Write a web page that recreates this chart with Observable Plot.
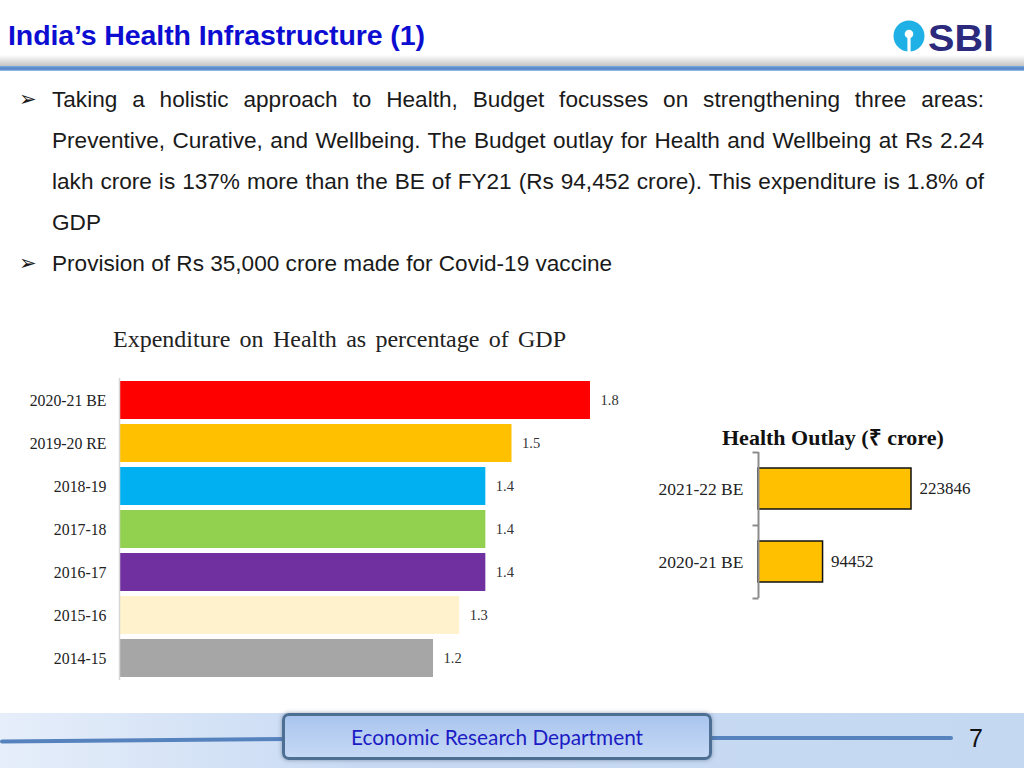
<!DOCTYPE html>
<html><head><meta charset="utf-8">
<script src="https://cdn.jsdelivr.net/npm/d3@7"></script>
<script src="https://cdn.jsdelivr.net/npm/@observablehq/plot@0.6"></script>
<style>
html,body{margin:0;padding:0;background:#fff;}
#slide{position:relative;width:1024px;height:768px;overflow:hidden;background:#fff;font-family:"Liberation Sans",Arial,sans-serif;}
.abs{position:absolute;}
#title{left:8px;top:19px;font-family:"Liberation Sans Narrow","Liberation Sans",Arial,sans-serif;font-weight:bold;font-size:28.5px;color:#0d0dd2;white-space:nowrap;letter-spacing:-0.1px;}
#hshadow{left:0;top:55px;width:1024px;height:11px;background:linear-gradient(to bottom,rgba(255,255,255,0),#c4c4c4);}
#hline{left:0;top:66px;width:1024px;height:5px;background:linear-gradient(to bottom,#7aa6dc,#4f82c6 60%,#a9c5e8);}
.line{left:52px;width:932px;font-size:22.6px;line-height:41px;height:41px;color:#1a1a1a;white-space:nowrap;}
.just{text-align:justify;text-align-last:justify;white-space:normal;}
.arrow{left:19px;font-family:"DejaVu Sans",sans-serif;font-size:21px;line-height:41px;color:#1a1a1a;}
.ctitle{font-family:"Liberation Serif","Times New Roman",serif;color:#222;white-space:nowrap;}
#footbg{left:0;top:713px;width:1024px;height:55px;background:linear-gradient(to right,#e6eefa 0%,#c8daf3 35%,#c5d8f2 100%);}
#footline1{left:0;top:737px;width:290px;height:4px;background:#5683bd;border-radius:2px;transform:rotate(-0.5deg);transform-origin:right center;}
#footline2{left:705px;top:736px;width:248px;height:4px;background:#5683bd;border-radius:2px;}
#footbox{left:282px;top:713px;width:424px;height:41px;border:3px solid #4d6f94;border-radius:7px;background:linear-gradient(to bottom,#a9c5ee,#c6d9f5);box-shadow:0 0 4px rgba(60,80,110,0.5);text-align:center;line-height:41px;font-family:Lato,"Open Sans",sans-serif;font-size:20.8px;color:#1c1cc4;}
#pageno{left:969px;top:724px;font-size:25px;color:#111;}
</style>
</head><body>
<div id="slide">
  <div id="title" class="abs">India’s Health Infrastructure (1)</div>
  <svg class="abs" style="left:882px;top:14px" width="120" height="44" viewBox="0 0 120 44">
    <circle cx="27" cy="22" r="15.5" fill="#1fb1e6"/>
    <circle cx="27" cy="20" r="4.3" fill="#fff"/>
    <rect x="25.4" y="21" width="3.2" height="17" fill="#fff"/>
    <text x="46" y="37" font-family="Liberation Sans Narrow, Liberation Sans, Arial" font-weight="bold" font-size="36" fill="#2c2a7c" textLength="66" lengthAdjust="spacingAndGlyphs">SBI</text>
  </svg>
  <div id="hshadow" class="abs"></div>
  <div id="hline" class="abs"></div>

  <div class="abs arrow" style="top:79px">➢</div>
  <div class="abs line just" style="top:79px">Taking a holistic approach to Health, Budget focusses on strengthening three areas:</div>
  <div class="abs line just" style="top:120px">Preventive, Curative, and Wellbeing. The Budget outlay for Health and Wellbeing at Rs 2.24</div>
  <div class="abs line just" style="top:161px">lakh crore is 137% more than the BE of FY21 (Rs 94,452 crore). This expenditure is 1.8% of</div>
  <div class="abs line" style="top:202px">GDP</div>
  <div class="abs arrow" style="top:243px">➢</div>
  <div class="abs line" style="top:243px">Provision of Rs 35,000 crore made for Covid-19 vaccine</div>

  <div class="abs ctitle" style="left:113px;top:326px;font-size:24px;word-spacing:3.3px">Expenditure on Health as percentage of GDP</div>
  <div id="leftchart" class="abs" style="left:0;top:378px"></div>

  <div class="abs ctitle" style="left:722px;top:421px;font-size:22px;font-weight:bold;color:#111">Health Outlay (₹ crore)</div>
  <div id="rightchart" class="abs" style="left:640px;top:445px"></div>

  <div id="footbg" class="abs"></div>
  <div id="footline1" class="abs"></div>
  <div id="footline2" class="abs"></div>
  <div id="footbox" class="abs">Economic Research Department</div>
  <div id="pageno" class="abs">7</div>
</div>
<script>
// ---- data ----
const gdpYears = ["2020-21 BE", "2019-20 RE", "2018-19", "2017-18", "2016-17", "2015-16", "2014-15"];
const gdpShare = [1.8, 1.5, 1.4, 1.4, 1.4, 1.3, 1.2];
const gdpColors = ["#ff0000", "#ffc000", "#00b0f0", "#92d050", "#7030a0", "#fff2cc", "#a6a6a6"];
const outlayYears = ["2021-22 BE", "2020-21 BE"];
const outlayCrore = [223846, 94452];

const gdpData = gdpYears.map((year, i) => ({year, value: gdpShare[i]}));
const outlayData = outlayYears.map((year, i) => ({year, value: outlayCrore[i]}));

const left = Plot.plot({
  width: 640, height: 310,
  marginLeft: 119, marginRight: 50, marginTop: 0, marginBottom: 8,
  x: {domain: [0, d3.max(gdpShare)], axis: null},
  y: {domain: gdpYears, paddingInner: 0.12, paddingOuter: 0.06, label: null, axis: null},
  color: {domain: gdpYears, range: gdpColors},
  style: {fontFamily: "Liberation Serif, Times New Roman, serif", background: "transparent", color: "#222", overflow: "visible"},
  marks: [
    Plot.barX(gdpData, {x: "value", y: "year", fill: "year"}),
    Plot.ruleX([0], {stroke: "#d6d6d6", strokeWidth: 1.5}),
    Plot.axisY({tickSize: 0, tickPadding: 13, fontSize: 15.8, label: null}),
    Plot.text(gdpData, {x: "value", y: "year", text: d => d.value.toFixed(1), textAnchor: "start", dx: 10, fontSize: 14.5, fill: "#333"})
  ]
});
document.getElementById("leftchart").appendChild(left);

const tickSym = {draw(ctx) { ctx.moveTo(-6, 0); ctx.lineTo(0, 0); }};
const rStep = (160 - 14) / outlayYears.length;
const right = Plot.plot({
  width: 384, height: 160,
  marginLeft: 118, marginRight: 113, marginTop: 7, marginBottom: 7,
  x: {domain: [0, d3.max(outlayCrore)], axis: null},
  y: {domain: outlayYears, paddingInner: 0.44, paddingOuter: 0.22, label: null, axis: null},
  style: {fontFamily: "Liberation Serif, Times New Roman, serif", background: "transparent", color: "#222", overflow: "visible"},
  marks: [
    Plot.barX(outlayData, {x: "value", y: "year", fill: "#ffc000", stroke: "#111", strokeWidth: 1.5}),
    Plot.ruleX([0], {stroke: "#8c8c8c", strokeWidth: 2}),
    Plot.dot(outlayData, {x: 0, y: "year", symbol: tickSym, stroke: "#8c8c8c", strokeWidth: 2, fill: "none", dy: -rStep / 2}),
    Plot.dot(outlayData.slice(-1), {x: 0, y: "year", symbol: tickSym, stroke: "#8c8c8c", strokeWidth: 2, fill: "none", dy: rStep / 2}),
    Plot.axisY({tickSize: 0, tickPadding: 15, fontSize: 17.5, label: null}),
    Plot.text(outlayData, {x: "value", y: "year", text: d => String(d.value), textAnchor: "start", dx: 8, fontSize: 17, fill: "#222"})
  ]
});
document.getElementById("rightchart").appendChild(right);
</script>
</body></html>
